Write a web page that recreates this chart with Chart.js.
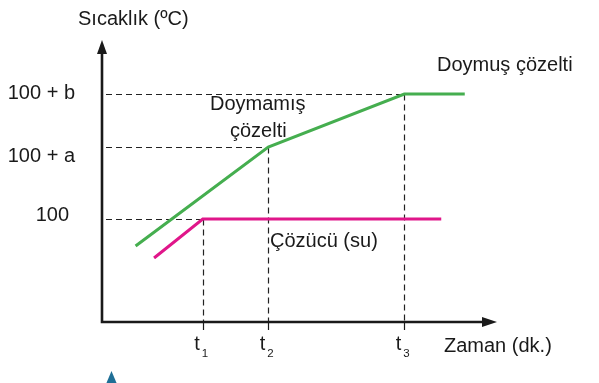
<!DOCTYPE html>
<html>
<head>
<meta charset="utf-8">
<script src="https://cdn.jsdelivr.net/npm/chart.js@4/dist/chart.umd.min.js"></script>
<style>
html,body{margin:0;padding:0;background:#fff;}
canvas{display:block;}
</style>
</head>
<body>
<canvas id="c" width="599" height="383"></canvas>
<script>
// ---- data ----
const xTickLabels = ['t1', 't2', 't3'];
const xTickValues = [3, 4.95, 9];
const yTickLabels = ['100', '100 + a', '100 + b'];
const yTickValues = [100, 110, 117.36];
const solutionX = [1.0, 4.95, 9, 10.8];
const solutionY = [96.25, 110, 117.36, 117.36];
const solventX = [1.55, 3, 10.1];
const solventY = [94.58, 100, 100];
const yAxisTitle = 'Sıcaklık (ºC)';
const xAxisTitle = 'Zaman (dk.)';
const solutionLabels = ['Doymamış', 'çözelti'];
const saturatedLabel = 'Doymuş çözelti';
const solventLabel = 'Çözücü (su)';

const GREEN = '#45ae4f';
const MAGENTA = '#e0168a';
const FONT = '20px "Liberation Sans", Arial, sans-serif';

const toPts = (xs, ys) => xs.map((x, i) => ({x, y: ys[i]}));

const drawPlugin = {
  id: 'draw',
  beforeDatasetsDraw(chart) {
    const {ctx, scales: {x, y}} = chart;
    const x0 = x.getPixelForValue(0);
    const y0 = y.getPixelForValue(y.min);
    ctx.save();
    ctx.strokeStyle = '#222';
    ctx.lineWidth = 1.2;
    ctx.setLineDash([6, 4]);
    for (let i = 0; i < yTickValues.length; i++) {
      const py = Math.round(y.getPixelForValue(yTickValues[i])) + 0.5;
      const px = x.getPixelForValue(xTickValues[i]);
      ctx.beginPath();
      ctx.moveTo(x0 + 4, py);
      ctx.lineTo(px, py);
      ctx.stroke();
      ctx.beginPath();
      ctx.moveTo(Math.round(px) + 0.5, py);
      ctx.lineTo(Math.round(px) + 0.5, y0);
      ctx.stroke();
    }
    ctx.restore();
  },
  afterDatasetsDraw(chart) {
    const {ctx, scales: {x, y}} = chart;
    const x0 = x.getPixelForValue(0);
    const y0 = y.getPixelForValue(y.min);
    const yTop = y.getPixelForValue(y.max);
    const xEnd = x.getPixelForValue(x.max);
    ctx.save();
    ctx.strokeStyle = '#1a1a1a';
    ctx.fillStyle = '#1a1a1a';
    ctx.lineWidth = 2.6;
    ctx.setLineDash([]);
    ctx.beginPath();
    ctx.moveTo(x0, yTop + 10);
    ctx.lineTo(x0, y0);
    ctx.lineTo(xEnd - 10, y0);
    ctx.stroke();
    // small ticks below the axis
    ctx.lineWidth = 1.2;
    for (let i = 0; i < xTickValues.length; i++) {
      const px = Math.round(x.getPixelForValue(xTickValues[i])) + 0.5;
      ctx.beginPath();
      ctx.moveTo(px, y0);
      ctx.lineTo(px, y0 + 8);
      ctx.stroke();
    }
    // arrows
    ctx.beginPath();
    ctx.moveTo(x0, yTop);
    ctx.lineTo(x0 - 5, yTop + 14);
    ctx.lineTo(x0 + 5, yTop + 14);
    ctx.closePath();
    ctx.fill();
    ctx.beginPath();
    ctx.moveTo(xEnd, y0);
    ctx.lineTo(xEnd - 15, y0 - 5);
    ctx.lineTo(xEnd - 15, y0 + 5);
    ctx.closePath();
    ctx.fill();

    ctx.fillStyle = '#1a1a1a';
    ctx.font = FONT;
    ctx.textBaseline = 'middle';
    ctx.textAlign = 'left';
    ctx.fillText(yAxisTitle, 78, 19);
    ctx.fillText(xAxisTitle, 444, 346);
    const yOffsets = [-3, 10, -1];
    ctx.textAlign = 'right';
    for (let i = 0; i < yTickLabels.length; i++) {
      ctx.fillText(yTickLabels[i], i === 0 ? 69 : 75, y.getPixelForValue(yTickValues[i]) + yOffsets[i]);
    }
    // x tick labels with subscript
    for (let i = 0; i < xTickLabels.length; i++) {
      const px = x.getPixelForValue(xTickValues[i]);
      const base = xTickLabels[i].charAt(0);
      const sub = xTickLabels[i].slice(1);
      ctx.textAlign = 'left';
      ctx.textBaseline = 'alphabetic';
      ctx.font = FONT;
      ctx.fillText(base, px - 8.5, 350);
      ctx.font = '11.5px "Liberation Sans", Arial, sans-serif';
      ctx.fillText(sub, px - 1, 356.5);
    }
    ctx.font = FONT;
    ctx.textBaseline = 'middle';
    ctx.textAlign = 'left';
    ctx.fillText(solutionLabels[0], 210, 104);
    ctx.fillText(solutionLabels[1], 230, 131);
    ctx.fillText(saturatedLabel, 437, 65);
    ctx.fillText(solventLabel, 270, 241);
    ctx.fillStyle = '#1f6f96';
    ctx.beginPath();
    ctx.moveTo(111.5, 371);
    ctx.lineTo(106, 384);
    ctx.lineTo(117, 384);
    ctx.closePath();
    ctx.fill();
    ctx.restore();
  }
};

new Chart(document.getElementById('c'), {
  type: 'scatter',
  data: {
    datasets: [
      {data: toPts(solutionX, solutionY), showLine: true, borderColor: GREEN, borderWidth: 3, pointRadius: 0, fill: false, tension: 0},
      {data: toPts(solventX, solventY), showLine: true, borderColor: MAGENTA, borderWidth: 3, pointRadius: 0, fill: false, tension: 0}
    ]
  },
  options: {
    responsive: false,
    animation: false,
    layout: {padding: {left: 102, right: 102, top: 40, bottom: 61}},
    plugins: {legend: {display: false}, tooltip: {enabled: false}},
    scales: {
      x: {type: 'linear', min: 0, max: 11.76, display: false},
      y: {type: 'linear', min: 85.69, max: 124.86, display: false}
    }
  },
  plugins: [drawPlugin]
});
</script>
</body>
</html>
